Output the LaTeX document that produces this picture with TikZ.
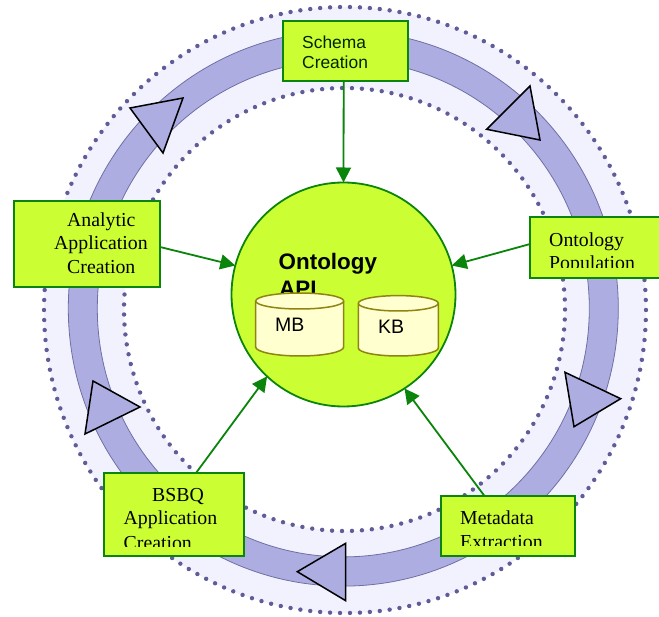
\documentclass[tikz,border=0pt]{standalone}
\usepackage{fontspec}
\setmainfont{Liberation Serif}
\setsansfont{Liberation Sans}
\usetikzlibrary{arrows.meta}
\definecolor{boxfill}{HTML}{CCFF33}
\definecolor{boxline}{HTML}{0A840A}
\definecolor{bandfill}{HTML}{ADADE2}
\definecolor{bandline}{HTML}{6F6FA3}
\definecolor{ringfill}{HTML}{F2F2FF}
\definecolor{dotcolor}{HTML}{5F5C97}
\definecolor{cylfill}{HTML}{FFFFCF}
\definecolor{cylline}{HTML}{8F8412}
\tikzset{
  stagebox/.style={draw=boxline,fill=boxfill,line width=2pt,inner sep=0pt,outer sep=0pt,anchor=north west},
  flowarrow/.style={draw=boxline,line width=1.8pt,-{Triangle[length=15pt,width=15pt]}},
  ringdot/.style={fill=dotcolor},
  cycletip/.style={draw=black,fill=bandfill,line width=1.5pt,line join=miter},
  serifl/.style={font=\rmfamily\fontsize{19.8}{23}\selectfont,anchor=base west,inner sep=0pt,text=black},
  sansl/.style={font=\sffamily\fontsize{17.4}{20}\selectfont,anchor=base west,inner sep=0pt,text=black!85!green},
  cyl/.style={draw=cylline,fill=cylfill,line width=1.5pt},
}
\begin{document}
\begin{tikzpicture}[x=1pt,y=-1pt]
\useasboundingbox (0,0) rectangle (659,617);
% pale ring
\fill[ringfill,even odd rule] (345,310) ellipse [x radius=301,y radius=303] (344.5,309.5) ellipse [x radius=220.5,y radius=221.5];
% band
\filldraw[fill=bandfill,draw=bandline,line width=0.8pt,even odd rule] (343.3,308.4) ellipse [x radius=275,y radius=277.7] (343.3,308.4) ellipse [x radius=246,y radius=248.5];
% dots
\foreach \k in {1,...,190} {
  \pgfmathsetmacro{\ang}{1.894737*\k}
  \fill[ringdot] ({345+301*cos(\ang)},{310+303*sin(\ang)}) circle [radius=2.2];
}
\foreach \k in {1,...,139} {
  \pgfmathsetmacro{\ang}{2.589928*\k}
  \fill[ringdot] ({344.5+220.5*cos(\ang)},{309.5+221.5*sin(\ang)}) circle [radius=2.2];
}
% cycle triangles
\draw[cycletip] (530,86) -- (486.7,129.3) -- (540,140) -- cycle;
\draw[cycletip] (565,372.3) -- (620.7,398.7) -- (574,426.7) -- cycle;
\draw[cycletip] (345.7,543.3) -- (297.3,571.7) -- (345.7,600.7) -- cycle;
\draw[cycletip] (85,434) -- (93,381) -- (140,407) -- cycle;
\draw[cycletip] (130,108) -- (183,98) -- (163,153) -- cycle;
% boxes
\node[stagebox,minimum width=125pt,minimum height=60pt] (schema) at (283,21.5) {};
\node[stagebox,minimum width=146pt,minimum height=86pt] (analytic) at (14,201) {};
\node[stagebox,minimum width=145pt,minimum height=60.5pt] (population) at (530,217.5) {};
\node[stagebox,minimum width=140pt,minimum height=83pt] (bsbq) at (104,473) {};
\node[stagebox,minimum width=134pt,minimum height=60pt] (metadata) at (440.5,496) {};
% central circle
\node[circle,draw=boxline,fill=boxfill,line width=1.8pt,minimum size=224pt,inner sep=0pt,outer sep=0pt] (api) at (343.5,294.5) {};
% connectors
\draw[flowarrow] ([xshift=-1.8pt]schema.south) -- (api.north);
\draw[flowarrow] ([yshift=-3pt]analytic.east) -- (api.165);
\draw[flowarrow] ([yshift=3.7pt]population.west) -- (api.15.5);
\draw[flowarrow] ([xshift=22pt]bsbq.north) -- (api.227.5);
\draw[flowarrow] ([xshift=-23pt]metadata.north) -- (api.303.3);
% box texts
\node[sansl] (t1) at (302,49) {Schema};
\node[sansl] (t2) at (302,68.5) {Creation};
\node[serifl] (t3) at (67,227) {Analytic};
\node[serifl] (t4) at (54,250) {Application};
\node[serifl] (t5) at (67,274) {Creation};
\node[serifl] (t6) at (549,247) {Ontology};
\begin{scope}
\clip (530,200) rectangle (675,268);
\node[serifl] (t7) at (549,270) {Population};
\end{scope}
\node[serifl] (t8) at (152,502) {BSBQ};
\node[serifl] (t9) at (123.5,525) {Application};
\begin{scope}
\clip (104,500) rectangle (244,546);
\node[serifl] (t10) at (123.5,549) {Creation};
\end{scope}
\node[serifl] (t11) at (460,524) {Metadata};
\begin{scope}
\clip (440,500) rectangle (575,545);
\node[serifl] (t12) at (460,548) {Extraction};
\end{scope}
% API title
\node[font=\sffamily\bfseries\fontsize{22.4}{26}\selectfont,anchor=base west,inner sep=0pt] (t13) at (278.5,270) {Ontology};
\node[font=\sffamily\bfseries\fontsize{22.4}{26}\selectfont,anchor=base west,inner sep=0pt] (t14) at (279,297) {API};
% cylinders
\path[cyl] (255.7,301) -- (255.7,347) arc [start angle=180,end angle=0,x radius=44,y radius=9] -- (343.7,301) arc [start angle=0,end angle=-180,x radius=44,y radius=8] -- cycle;
\draw[cyl] (255.7,301) arc [start angle=180,end angle=0,x radius=44,y radius=8];
\path[cyl] (358.3,303.3) -- (358.3,348) arc [start angle=180,end angle=0,x radius=40,y radius=8] -- (438.3,303.3) arc [start angle=0,end angle=-180,x radius=40,y radius=7.7] -- cycle;
\draw[cyl] (358.3,303.3) arc [start angle=180,end angle=0,x radius=40,y radius=7.7];
\node[font=\sffamily\fontsize{19.5}{22}\selectfont,anchor=base west,inner sep=0pt] (mb) at (275,332) {MB};
\node[font=\sffamily\fontsize{19.5}{22}\selectfont,anchor=base west,inner sep=0pt] (kb) at (378,334) {KB};
\end{tikzpicture}
\end{document}
